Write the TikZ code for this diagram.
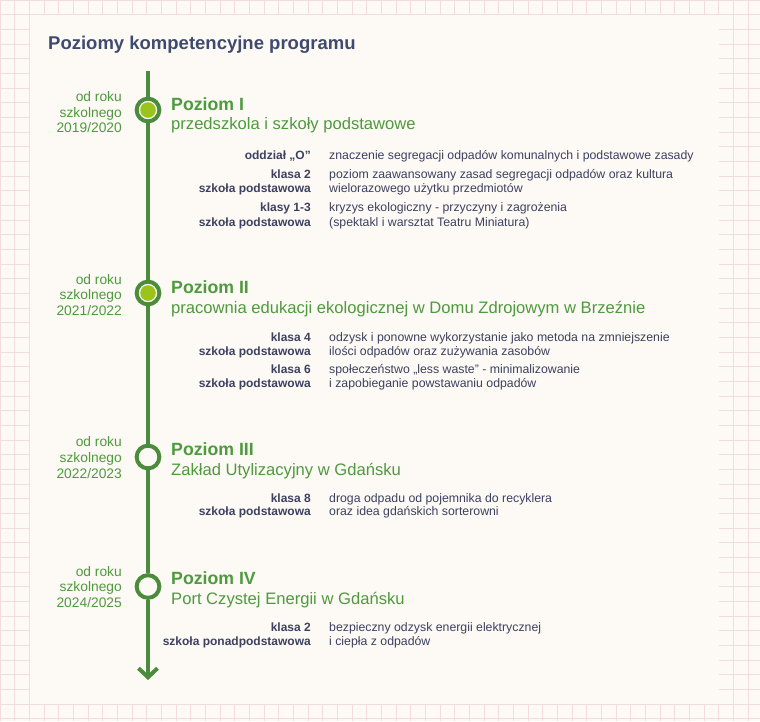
\documentclass[tikz,border=0pt]{standalone}
\usepackage{fontspec}
\setmainfont{Liberation Sans}
\usetikzlibrary{arrows.meta}
\definecolor{bgcream}{HTML}{FDF9F4}
\definecolor{gridpink}{HTML}{F3DCDC}
\definecolor{titleblue}{HTML}{3F4A6F}
\definecolor{darktext}{HTML}{3C4160}
\definecolor{greentext}{HTML}{4E9A3E}
\definecolor{linegreen}{HTML}{4B8C3C}
\definecolor{limefill}{HTML}{9AC31B}
\tikzset{
  gridline/.style={draw=gridpink, line width=1pt},
  titletext/.style={anchor=base west, inner sep=0, text=titleblue, font=\fontsize{18.5}{21}\selectfont\bfseries},
  datetext/.style={anchor=base east, inner sep=0, text=greentext, font=\fontsize{13.8}{15}\selectfont},
  leveltext/.style={anchor=base west, inner sep=0, text=greentext, font=\fontsize{17.7}{20}\selectfont\bfseries},
  subtext/.style={anchor=base west, inner sep=0, text=greentext, font=\fontsize{16.6}{18}\selectfont},
  who/.style={anchor=base east, inner sep=0, text=darktext, font=\fontsize{12}{14}\selectfont\bfseries},
  what/.style={anchor=base west, inner sep=0, text=darktext, font=\fontsize{12.3}{14}\selectfont},
  ring/.style={circle, draw=linegreen, line width=4pt, fill=bgcream, minimum size=22.7pt, inner sep=0},
  axis/.style={draw=linegreen, line width=4pt},
}
\begin{document}
\begin{tikzpicture}[x=1pt,y=-1pt]
\useasboundingbox (0,0) rectangle (760,721);
\fill[bgcream] (0,0) rectangle (760,721);
\foreach \i in {0,...,52} \draw[gridline] (\i*14.67,0) -- (\i*14.67,721);
\foreach \j in {0,...,49} \draw[gridline] (0,\j*14.67) -- (760,\j*14.67);
\fill[bgcream] (29.8,15.2) rectangle (718.6,703.7);

\node[titletext] (title) at (48,49.5) {Poziomy kompetencyjne programu};

% timeline
\coordinate (top) at (148,71);
\coordinate (bot) at (148,680);
\node[ring] (c1) at (148,110) {};
\node[ring] (c2) at (148,293) {};
\node[ring] (c3) at (148,457) {};
\node[ring] (c4) at (148,586.5) {};
\fill[limefill] (c1) circle (7.8);
\fill[limefill] (c2) circle (7.8);
\draw[axis] (top) -- (c1);
\draw[axis] (c1) -- (c2);
\draw[axis] (c2) -- (c3);
\draw[axis] (c3) -- (c4);
\draw[axis, -{Straight Barb[length=9pt,width=19pt]}] (c4) -- (bot);

% Level I
\node[datetext] (d1a) at (122,101.7) {od roku};
\node[datetext] (d1b) at (122,117) {szkolnego};
\node[datetext] (d1c) at (122,132.3) {2019/2020};
\node[leveltext] (l1) at (171,110) {Poziom I};
\node[subtext] (s1) at (171,129.3) {przedszkola i szkoły podstawowe};
\node[who] (w1a) at (311,159.3) {oddział „O"};
\node[what] (t1a) at (329,159.3) {znaczenie segregacji odpadów komunalnych i podstawowe zasady};
\node[who] (w1b) at (311,178.3) {klasa 2};
\node[who] (w1c) at (311,192.7) {szkoła podstawowa};
\node[what] (t1b) at (329,178.3) {poziom zaawansowany zasad segregacji odpadów oraz kultura};
\node[what] (t1c) at (329,192.7) {wielorazowego użytku przedmiotów};
\node[who] (w1d) at (311,211.7) {klasy 1-3};
\node[who] (w1e) at (311,226) {szkoła podstawowa};
\node[what] (t1d) at (329,211.7) {kryzys ekologiczny - przyczyny i zagrożenia};
\node[what] (t1e) at (329,226) {(spektakl i warsztat Teatru Miniatura)};

% Level II
\node[datetext] (d2a) at (122,284) {od roku};
\node[datetext] (d2b) at (122,299.3) {szkolnego};
\node[datetext] (d2c) at (122,315) {2021/2022};
\node[leveltext] (l2) at (171,293.3) {Poziom II};
\node[subtext] (s2) at (171,313.3) {pracownia edukacji ekologicznej w Domu Zdrojowym w Brzeźnie};
\node[who] (w2a) at (311,341.7) {klasa 4};
\node[who] (w2b) at (311,355.5) {szkoła podstawowa};
\node[what] (t2a) at (329,341.7) {odzysk i ponowne wykorzystanie jako metoda na zmniejszenie};
\node[what] (t2b) at (329,355.5) {ilości odpadów oraz zużywania zasobów};
\node[who] (w2c) at (311,373) {klasa 6};
\node[who] (w2d) at (311,387.5) {szkoła podstawowa};
\node[what] (t2c) at (329,373) {społeczeństwo „less waste" - minimalizowanie};
\node[what] (t2d) at (329,387.5) {i zapobieganie powstawaniu odpadów};

% Level III
\node[datetext] (d3a) at (122,446.7) {od roku};
\node[datetext] (d3b) at (122,462) {szkolnego};
\node[datetext] (d3c) at (122,478) {2022/2023};
\node[leveltext] (l3) at (171,455.7) {Poziom III};
\node[subtext] (s3) at (171,475) {Zakład Utylizacyjny w Gdańsku};
\node[who] (w3a) at (311,502.5) {klasa 8};
\node[who] (w3b) at (311,515.5) {szkoła podstawowa};
\node[what] (t3a) at (329,502.5) {droga odpadu od pojemnika do recyklera};
\node[what] (t3b) at (329,515.5) {oraz idea gdańskich sorterowni};

% Level IV
\node[datetext] (d4a) at (122,576) {od roku};
\node[datetext] (d4b) at (122,591.3) {szkolnego};
\node[datetext] (d4c) at (122,607) {2024/2025};
\node[leveltext] (l4) at (171,584.3) {Poziom IV};
\node[subtext] (s4) at (171,604.3) {Port Czystej Energii w Gdańsku};
\node[who] (w4a) at (311,631.7) {klasa 2};
\node[who] (w4b) at (311,645) {szkoła ponadpodstawowa};
\node[what] (t4a) at (329,631.7) {bezpieczny odzysk energii elektrycznej};
\node[what] (t4b) at (329,645) {i ciepła z odpadów};
\end{tikzpicture}
\end{document}
